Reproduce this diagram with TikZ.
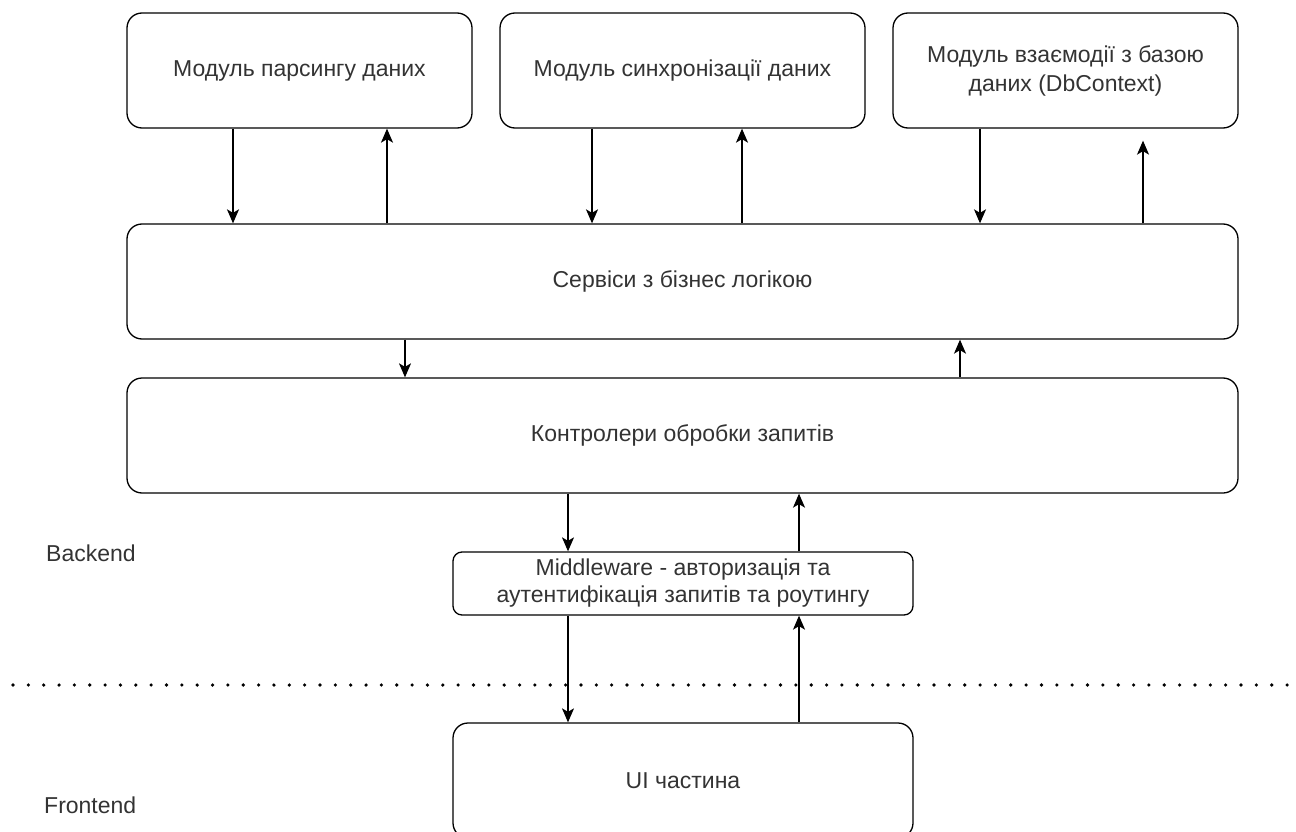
\documentclass[tikz,border=0pt]{standalone}
\usepackage{fontspec}
\setmainfont{Liberation Sans}
\usetikzlibrary{arrows.meta}

\tikzset{
  blok/.style={draw, rounded corners=15pt, line width=1.3pt, align=center,
    text=black!80, font=\fontsize{23}{29}\selectfont, inner sep=0pt},
  strl/.style={line width=1.3pt, -{Stealth[length=14pt,width=12pt,inset=3.5pt]}},
  mitka/.style={text=black!80, font=\fontsize{23}{29}\selectfont, anchor=west, inner sep=0pt}
}

\begin{document}
\begin{tikzpicture}[x=1pt,y=-1pt]
  \useasboundingbox (0,0) rectangle (1296,832);
  % moduli
  \node[blok, minimum width=345pt, minimum height=115pt] (mparse) at (299.5,70.5) {Модуль парсингу даних};
  \node[blok, minimum width=365pt, minimum height=115pt] (msync) at (682.5,70.5) {Модуль синхронізації даних};
  \node[blok, minimum width=345pt, minimum height=115pt] (mdb) at (1065.5,70.5) {Модуль взаємодії з базою\\даних (DbContext)};
  % servisy, kontrolery
  \node[blok, minimum width=1111pt, minimum height=115pt] (serv) at (682.5,281.5) {Сервіси з бізнес логікою};
  \node[blok, minimum width=1111pt, minimum height=115pt] (ctrl) at (682.5,435.5) {Контролери обробки запитів};
  \node[blok, rounded corners=9pt, minimum width=460pt, minimum height=63pt, font=\fontsize{23}{27}\selectfont] (mw) at (683,583.5) {Middleware - авторизація та\\аутентифікація запитів та роутингу};
  \node[blok, minimum width=460pt, minimum height=115pt] (ui) at (683,780.5) {UI частина};
  \node[mitka] (back) at (46,553) {Backend};
  \node[mitka] (front) at (44,805) {Frontend};
  % mezha
  \coordinate (ml) at (13,685); \coordinate (mr) at (1296,685);
  \draw[line width=3.6pt, line cap=round, dash pattern=on 0pt off 15.35pt] (ml) -- (mr);
  % strilky
  \draw[strl] ([xshift=-66.5pt]mparse.south) -- ([xshift=-66.5pt]mparse.south |- serv.north);
  \draw[strl] ([xshift=87.5pt]mparse.south |- serv.north) -- ([xshift=87.5pt]mparse.south);
  \draw[strl] ([xshift=-90.5pt]msync.south) -- ([xshift=-90.5pt]msync.south |- serv.north);
  \draw[strl] ([xshift=59.5pt]msync.south |- serv.north) -- ([xshift=59.5pt]msync.south);
  \draw[strl] ([xshift=-85.5pt]mdb.south) -- ([xshift=-85.5pt]mdb.south |- serv.north);
  \draw[strl] ([xshift=77.5pt]mdb.south |- serv.north) -- ([xshift=77.5pt,yshift=-12pt]mdb.south);
  \draw[strl] ([xshift=-277.5pt]serv.south) -- ([xshift=-277.5pt]serv.south |- ctrl.north);
  \draw[strl] ([xshift=277.5pt]serv.south |- ctrl.north) -- ([xshift=277.5pt]serv.south);
  \draw[strl] ([xshift=-115pt]mw.north |- ctrl.south) -- ([xshift=-115pt]mw.north);
  \draw[strl] ([xshift=116pt]mw.north) -- ([xshift=116pt]mw.north |- ctrl.south);
  \draw[strl] ([xshift=-115pt]mw.south) -- ([xshift=-115pt]mw.south |- ui.north);
  \draw[strl] ([xshift=116pt]mw.south |- ui.north) -- ([xshift=116pt]mw.south);
\end{tikzpicture}
\end{document}
